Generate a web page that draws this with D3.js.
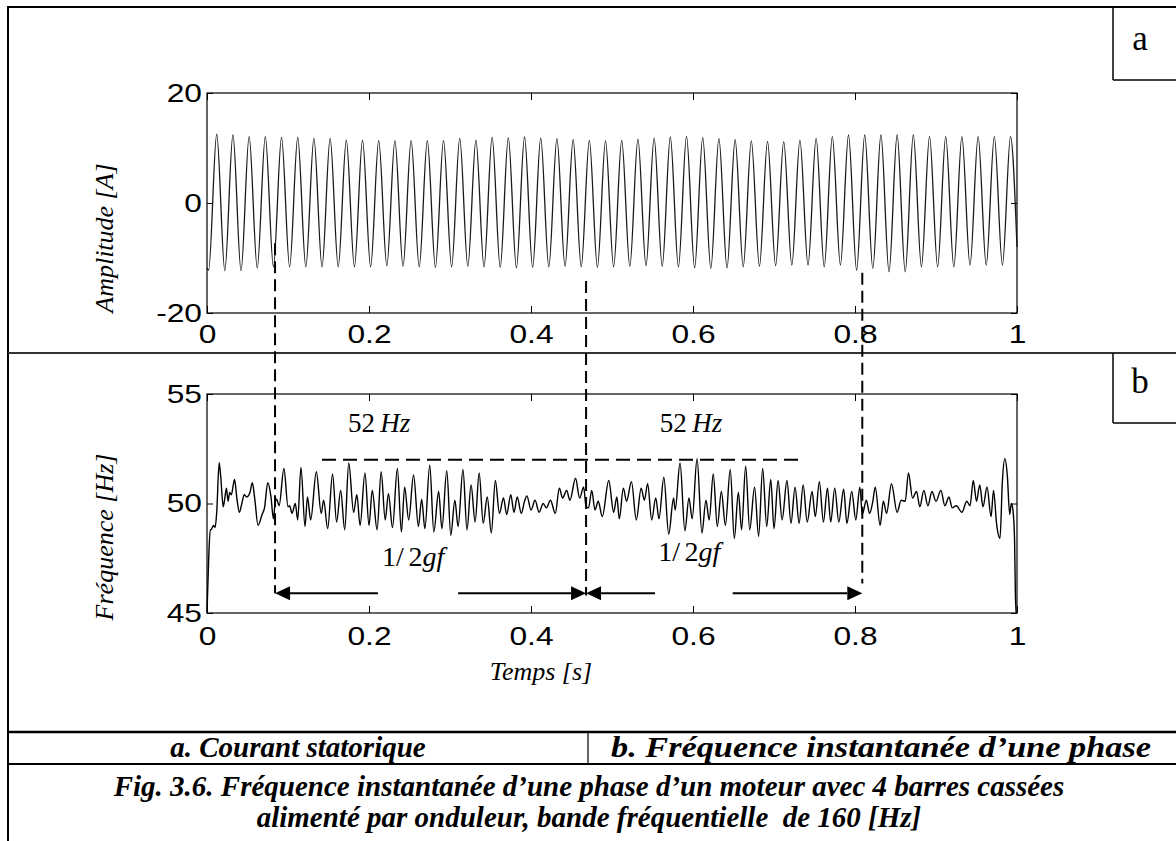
<!DOCTYPE html>
<html><head><meta charset="utf-8">
<script src="https://cdn.jsdelivr.net/npm/d3@7"></script>
<style>
html,body{margin:0;padding:0;background:#fff;}
svg{display:block;}
.tick text{font-family:"Liberation Sans",Arial,sans-serif;font-size:26px;fill:#000;}
.tick line{stroke:#000;stroke-width:1;}
.serif{font-family:"Liberation Serif","Times New Roman",serif;fill:#000;}
</style></head><body>
<svg id="c" width="1176" height="841"></svg>
<script>
// ---------------- DATA ----------------
const timeTicks = [0, 0.2, 0.4, 0.6, 0.8, 1];
const timeTickLabels = ["0", "0.2", "0.4", "0.6", "0.8", "1"];
const ampTicks = [-20, 0, 20];
const ampTickLabels = ["-20", "0", "20"];
const freqTicks = [45, 50, 55];
const freqTickLabels = ["45", "50", "55"];

// Panel a: stator current, extrema
const ampStart = [0, -11.8];
const ampEnd = [1.0, -8.0];
const troughTimes = [0.002,0.022,0.042,0.062,0.082,0.102,0.122,0.142,0.162,0.182,0.202,0.222,0.242,0.262,0.282,0.302,0.322,0.342,0.362,0.382,0.402,0.422,0.442,0.462,0.482,0.502,0.522,0.542,0.562,0.582,0.602,0.622,0.642,0.662,0.682,0.702,0.722,0.742,0.762,0.782,0.802,0.822,0.842,0.862,0.882,0.902,0.922,0.942,0.962,0.982];
const troughValues = [-12.2,-12.3,-12.3,-11.8,-11.6,-11.6,-11.6,-11.6,-11.6,-11.6,-11.6,-11.4,
  -11.5,-11.6,-11.7,-11.6,-11.5,-11.6,-11.7,-11.8,-11.7,-11.6,-11.5,-11.6,-11.7,-11.6,-11.5,-11.4,-11.5,-11.6,-11.8,-11.9,-11.8,-11.6,-11.5,-11.4,
  -11.3,-11.3,-11.6,-11.3,-12.2,-11.9,-12.5,-12.5,-11.6,-11.6,-11.6,-11.3,-11.3,-11.3];
const peakTimes = [0.012,0.032,0.052,0.072,0.092,0.112,0.132,0.152,0.172,0.192,0.212,0.232,0.252,0.272,0.292,0.312,0.332,0.352,0.372,0.392,0.412,0.432,0.452,0.472,0.492,0.512,0.532,0.552,0.572,0.592,0.612,0.632,0.652,0.672,0.692,0.712,0.732,0.752,0.772,0.792,0.812,0.832,0.852,0.872,0.892,0.912,0.932,0.952,0.972,0.992];
const peakValues = [12.5,12.36,12.06,12.06,11.94,11.94,11.76,11.76,11.45,11.45,11.33,11.33,11.33,11.33,11.33,11.76,11.45,11.94,
  11.9,12.0,11.8,11.7,11.5,11.4,11.3,11.4,11.6,11.8,12.0,12.1,11.9,11.7,11.5,11.3,11.2,
  11.15,11.45,11.76,12.06,12.36,12.36,12.36,12.36,12.36,12.06,12.06,12.06,12.06,12.06,12.06];

// Panel b: instantaneous frequency
const freqTimes = [0,0.002,0.004,0.005,0.008,0.010,0.012,0.015,0.017,0.020,0.022,0.024,0.026,0.028,0.030,0.034,0.037,0.040,0.043,0.046,0.049,0.053,0.056,0.059,0.063,0.068,0.071,0.075,0.079,0.082,0.084,0.086,0.089,0.095,0.100,0.102,0.105,0.109,0.112,0.116,0.121,0.124,0.128,0.135,0.141,0.144,0.149,0.155,0.160,0.165,0.170,0.175,0.181,0.185,0.189,0.195,0.200,0.204,0.210,0.215,0.220,0.224,0.229,0.235,0.240,0.244,0.249,0.255,
  0.261,0.265,0.269,0.275,0.280,0.286,0.290,0.296,0.301,0.306,0.310,0.316,0.321,0.326,0.331,0.336,0.341,0.346,0.351,0.356,0.361,0.366,0.370,0.375,0.379,0.383,0.388,0.392,0.395,0.400,0.405,0.410,0.415,0.419,0.424,0.430,0.435,0.439,0.444,0.448,0.455,0.460,0.465,0.468,0.471,0.475,0.479,0.483,0.488,0.496,0.502,0.506,
  0.509,0.514,0.518,0.524,0.530,0.536,0.540,0.544,0.549,0.554,0.558,0.564,0.570,0.576,0.578,0.584,0.590,0.595,0.599,0.605,0.611,0.616,0.620,0.625,0.630,0.635,0.640,0.646,0.651,0.656,0.660,0.665,0.670,0.676,0.681,0.686,0.691,0.696,0.700,0.705,0.710,0.716,0.721,0.726,0.731,0.736,0.741,0.747,0.751,0.756,0.761,
  0.766,0.770,0.775,0.780,0.786,0.790,0.796,0.801,0.806,0.809,0.814,0.818,0.822,0.825,0.831,0.835,0.839,0.845,0.852,0.857,0.862,0.866,0.871,0.876,0.880,0.885,0.890,0.895,0.900,0.906,0.911,0.916,0.920,0.925,0.932,0.938,0.942,0.946,0.950,0.954,0.958,0.963,0.968,0.971,0.975,0.979,0.982,0.985,0.988,0.991,0.993,0.995,0.997,0.998,0.999];
const freqValues = [45.0,47.4,48.8,48.8,49.0,48.9,49.6,51.86,51.2,49.85,50.25,50.7,50.1,50.5,50.4,51.1,50.2,49.6,50.0,50.4,50.3,50.5,50.95,50.2,49.0,49.5,49.8,50.95,50.3,49.3,50.0,50.2,49.9,51.6,49.85,49.9,49.55,50.0,49.25,51.65,48.95,50.3,49.25,51.45,49.55,50.15,48.85,51.35,49.15,50.6,48.8,51.85,49.6,50.4,49.0,51.4,49.0,50.6,48.8,51.45,49.25,50.45,48.9,51.6,48.7,50.75,49.25,51.3,
  48.95,50.2,48.85,51.75,48.7,50.55,48.85,51.5,48.55,50.15,48.95,51.55,48.8,50.85,49.15,51.4,49.1,50.3,48.65,51.05,49.55,50.25,49.5,50.4,49.6,50.3,49.55,50.1,50.35,49.7,50.15,49.6,50.0,49.8,50.15,49.55,50.7,50.25,50.6,50.15,51.15,50.25,50.75,49.85,49.8,50.6,49.7,50.1,49.4,51.05,49.6,50.3,
  49.3,50.7,50.1,51.0,49.25,50.7,50.15,50.9,49.25,50.25,49.3,51.2,48.6,50.25,49.7,51.85,48.75,50.25,49.3,52.05,48.65,50.15,49.25,51.35,48.95,50.55,49.0,51.55,48.4,50.5,48.8,51.7,48.8,50.75,48.5,51.6,48.95,51.1,48.85,51.05,49.25,51.05,49.1,50.75,49.1,50.85,49.15,50.55,49.4,51.0,49.15,
  50.7,49.15,50.7,49.15,50.65,49.1,50.55,49.25,50.75,49.5,50.15,49.55,50.1,50.75,49.0,50.1,49.55,50.9,49.6,50.15,50.1,51.4,50.25,50.55,49.85,50.6,49.9,50.55,50.1,50.6,49.9,50.3,49.8,49.9,49.6,50.1,49.9,51.05,50.1,50.85,49.85,50.75,49.4,50.6,49.0,48.4,51.05,52.05,51.3,49.5,50.0,49.7,48.35,45.9,45.0];

// Annotations (data units)
const markerTimes = [0.084, 0.468, 0.809];
const markerTopAmp = [-7.3, -14.2, -12.7];
const markerBottomFreq = [45.9, 45.8, 46.35];
const level52 = 52;
const level52Span = [0.142, 0.730];
const arrowFreq = 45.9;
const arrowFrom = [0.211, 0.310, 0.553, 0.649];
const arrowTo = [0.084, 0.468, 0.468, 0.809];
const hzLabelTimes = [0.174, 0.559];
const hzLabelFreq = [53.26, 53.26];
const gfLabelTimes = [0.216, 0.557];
const gfLabelFreq = [47.15, 47.37];

const captionA = "a. Courant statorique";
const captionB = "b. Fréquence instantanée d’une phase";
const figLine1 = "Fig. 3.6. Fréquence instantanée d’une phase d’un moteur avec 4 barres cassées";
const figLine2 = "alimenté par onduleur, bande fréquentielle  de 160 [Hz]";

// ---------------- DRAW ----------------
const svg = d3.select('#c');
svg.append('rect').attr('width',1176).attr('height',841).attr('fill','#fff');

const x = d3.scaleLinear().domain([0,1]).range([207,1017]);
const yA = d3.scaleLinear().domain([-20,20]).range([313,93]);
const yF = d3.scaleLinear().domain([45,55]).range([613,394]);

function hline(y,x1,x2,w,c){svg.append('line').attr('x1',x1).attr('x2',x2).attr('y1',y).attr('y2',y).attr('stroke',c||'#000').attr('stroke-width',w);}
function vline(xx,y1,y2,w,c){svg.append('line').attr('x1',xx).attr('x2',xx).attr('y1',y1).attr('y2',y2).attr('stroke',c||'#000').attr('stroke-width',w);}
hline(7,7,1176,2);
vline(8,6,841,2);
hline(353,8,1176,2,'#333');
hline(732,8,1176,2.5);
hline(764,8,1176,2);
vline(588,732,764,1.2);
vline(1113,7,80,1.5); hline(80,1113,1176,1.5);
vline(1113,353,423,1.5); hline(423,1113,1176,1.5);
svg.append('text').attr('class','serif').attr('x',1140).attr('y',50).attr('text-anchor','middle').attr('font-size',35).text('a');
svg.append('text').attr('class','serif').attr('x',1140).attr('y',393).attr('text-anchor','middle').attr('font-size',35).text('b');

function stretch(sel, k){
  sel.selectAll('.tick text').each(function(){
    const t = d3.select(this);
    const tx = +t.attr('x') || 0;
    t.attr('transform',`translate(${tx},0) scale(${k},1) translate(${-tx},0)`);
  });
}

function panel(y, yTicks, yLabels, padX){
  const [yb, yt] = y.range();
  const g = svg.append('g');
  g.append('g').attr('transform',`translate(0,${yb})`)
    .call(d3.axisBottom(x).tickValues(timeTicks).tickFormat((d,i)=>timeTickLabels[i]).tickSizeInner(-7).tickSizeOuter(0).tickPadding(padX))
    .call(a=>a.select('.domain').remove()).call(a=>stretch(a,1.22));
  g.append('g').attr('transform',`translate(0,${yt})`)
    .call(d3.axisTop(x).tickValues(timeTicks).tickFormat('').tickSizeInner(-7).tickSizeOuter(0))
    .call(a=>a.select('.domain').remove());
  g.append('g').attr('transform',`translate(${x(0)},0)`)
    .call(d3.axisLeft(y).tickValues(yTicks).tickFormat((d,i)=>yLabels[i]).tickSizeInner(-6).tickSizeOuter(0).tickPadding(5))
    .call(a=>a.select('.domain').remove()).call(a=>stretch(a,1.22));
  g.append('g').attr('transform',`translate(${x(1)},0)`)
    .call(d3.axisRight(y).tickValues(yTicks).tickFormat('').tickSizeInner(-6).tickSizeOuter(0))
    .call(a=>a.select('.domain').remove());
  g.append('rect').attr('x',x(0)).attr('y',yt).attr('width',x(1)-x(0)).attr('height',yb-yt)
    .attr('fill','none').attr('stroke','#000').attr('stroke-width',1.2);
  return g;
}

panel(yA, ampTicks, ampTickLabels, 11.5);
panel(yF, freqTicks, freqTickLabels, 13.5);

// panel a signal
const ampPts = [ampStart];
for (let i=0;i<troughTimes.length;i++){ ampPts.push([troughTimes[i],troughValues[i]]); ampPts.push([peakTimes[i],peakValues[i]]); }
ampPts.push(ampEnd);
svg.append('path').datum(ampPts)
  .attr('d', d3.line().x(d=>x(d[0])).y(d=>yA(d[1])).curve(d3.curveMonotoneX))
  .attr('fill','none').attr('stroke','#1a1a1a').attr('stroke-width',1.3);

// panel b signal
const freqPts = freqTimes.map((t,i)=>[t,freqValues[i]]);
svg.append('path').datum(freqPts)
  .attr('d', d3.line().x(d=>x(d[0])).y(d=>yF(d[1])).curve(d3.curveMonotoneX))
  .attr('fill','none').attr('stroke','#000').attr('stroke-width',1.4);

// axis titles
svg.append('text').attr('class','serif').attr('font-size',26).attr('font-style','italic')
  .attr('text-anchor','middle').attr('transform',`translate(113,238) rotate(-90)`).text('Amplitude [A]');
svg.append('text').attr('class','serif').attr('font-size',26).attr('font-style','italic')
  .attr('text-anchor','middle').attr('transform',`translate(113,537) rotate(-90)`).text('Fréquence [Hz]');
svg.append('text').attr('class','serif').attr('font-size',26).attr('font-style','italic')
  .attr('text-anchor','middle').attr('x',541).attr('y',680).text('Temps [s]');

// vertical dashed markers
markerTimes.forEach((t,i)=>{
  svg.append('line').attr('x1',x(t)).attr('x2',x(t)).attr('y1',yA(markerTopAmp[i])).attr('y2',yF(markerBottomFreq[i]))
    .attr('stroke','#000').attr('stroke-width',2).attr('stroke-dasharray','12,6');
});
svg.append('line').attr('x1',x(level52Span[0])).attr('x2',x(level52Span[1])).attr('y1',yF(level52)).attr('y2',yF(level52))
  .attr('stroke','#000').attr('stroke-width',2).attr('stroke-dasharray','14,7');

// arrows
arrowFrom.forEach((f,i)=>{
  const x0 = x(f), x1 = x(arrowTo[i]), yy = yF(arrowFreq);
  const dir = x1 > x0 ? 1 : -1;
  const hl = 15, hw = 7;
  svg.append('line').attr('x1',x0).attr('x2',x1 - dir*hl).attr('y1',yy).attr('y2',yy).attr('stroke','#000').attr('stroke-width',2);
  svg.append('path').attr('d',`M${x1},${yy} L${x1-dir*hl},${yy-hw} L${x1-dir*hl},${yy+hw} Z`).attr('fill','#000');
});

// annotation texts
hzLabelTimes.forEach((t,i)=>{
  const tx = svg.append('text').attr('class','serif').attr('font-size',27).attr('x',x(t)).attr('y',yF(hzLabelFreq[i]));
  tx.append('tspan').text('52');
  tx.append('tspan').attr('font-style','italic').text('\u2009Hz');
});
gfLabelTimes.forEach((t,i)=>{
  const tx = svg.append('text').attr('class','serif').attr('font-size',28).attr('x',x(t)).attr('y',yF(gfLabelFreq[i]));
  tx.append('tspan').text('1/\u20062');
  tx.append('tspan').attr('font-style','italic').text('gf');
});

// captions
function cap(txt, cx, by, len){
  const t = svg.append('text').attr('class','serif').attr('font-size',29).attr('font-weight','bold').attr('font-style','italic')
    .attr('text-anchor','middle').attr('x',cx).attr('y',by).attr('xml:space','preserve').style('white-space','pre').text(txt);
  if (len) t.attr('textLength',len).attr('lengthAdjust','spacingAndGlyphs');
}
cap(captionA, 298, 757);
cap(captionB, 881, 757, 540);
cap(figLine1, 589, 796);
cap(figLine2, 589, 827);
</script></body></html>
